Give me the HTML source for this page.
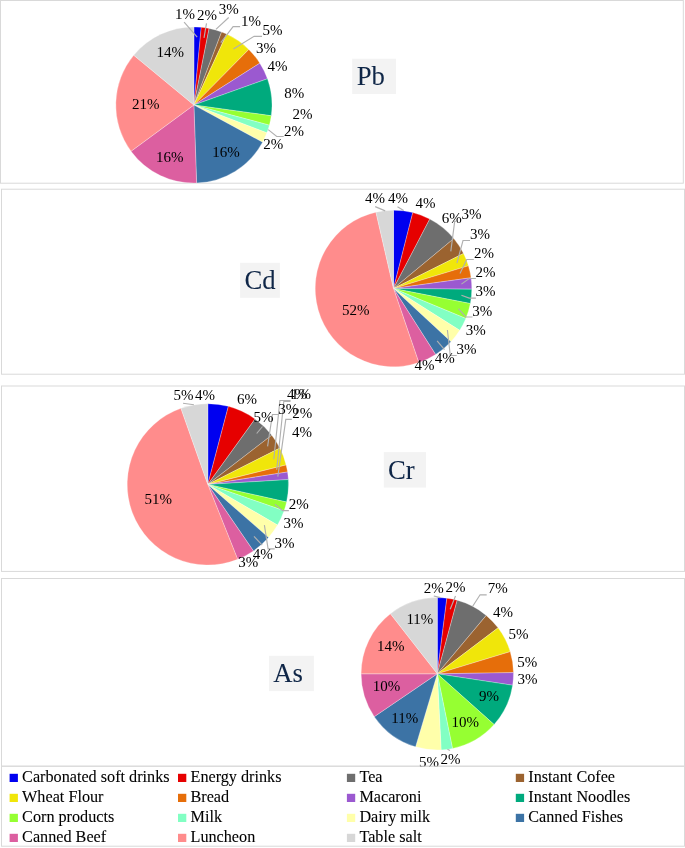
<!DOCTYPE html>
<html><head><meta charset="utf-8"><title>Heavy metals pie charts</title>
<style>
html,body{margin:0;padding:0;background:#fff;}
body{width:685px;height:848px;overflow:hidden;}
svg{display:block;}
text{font-family:"Liberation Serif","Times New Roman",serif;}
.lb{font-size:15px;fill:#000;}
.lg{font-size:16.2px;fill:#000;stroke:#000;stroke-width:0.08;}
.tt{font-size:26.7px;fill:#0f2647;stroke:#0f2647;stroke-width:0.06;}
.ld{fill:none;stroke:#b0b0b0;stroke-width:1.15;}
.bx{fill:#fff;stroke:#d9d9d9;stroke-width:1;}
</style></head><body>
<svg width="685" height="848" viewBox="0 0 685 848">
<rect x="0" y="0" width="685" height="848" fill="#fff"/>
<rect class="bx" x="0.5" y="0.5" width="682.8" height="182.7"/>
<rect class="bx" x="1.5" y="189.2" width="683.0" height="185.0"/>
<rect class="bx" x="1.5" y="386.0" width="683.0" height="185.4"/>
<rect class="bx" x="1.5" y="578.5" width="683.0" height="187.7"/>
<g stroke="#fff" stroke-opacity="0.55" stroke-width="0.5" stroke-linejoin="round">
<path d="M193.90 105.00L193.90 26.90A78.1 78.1 0 0 1 201.25 27.25Z" fill="#0000f0"/>
<path d="M193.90 105.00L201.25 27.25A78.1 78.1 0 0 1 209.11 28.40Z" fill="#e60000"/>
<path d="M193.90 105.00L209.11 28.40A78.1 78.1 0 0 1 221.60 31.98Z" fill="#6e6e6e"/>
<path d="M193.90 105.00L221.60 31.98A78.1 78.1 0 0 1 226.66 34.10Z" fill="#9b6330"/>
<path d="M193.90 105.00L226.66 34.10A78.1 78.1 0 0 1 248.78 49.43Z" fill="#f0e60a"/>
<path d="M193.90 105.00L248.78 49.43A78.1 78.1 0 0 1 259.84 63.15Z" fill="#e66e0a"/>
<path d="M193.90 105.00L259.84 63.15A78.1 78.1 0 0 1 267.47 78.78Z" fill="#9b59d0"/>
<path d="M193.90 105.00L267.47 78.78A78.1 78.1 0 0 1 271.26 115.76Z" fill="#00aa7d"/>
<path d="M193.90 105.00L271.26 115.76A78.1 78.1 0 0 1 269.36 125.13Z" fill="#96ff32"/>
<path d="M193.90 105.00L269.36 125.13A78.1 78.1 0 0 1 266.87 132.84Z" fill="#82ffc3"/>
<path d="M193.90 105.00L266.87 132.84A78.1 78.1 0 0 1 262.57 142.19Z" fill="#ffffaa"/>
<path d="M193.90 105.00L262.57 142.19A78.1 78.1 0 0 1 196.60 183.05Z" fill="#3c73a5"/>
<path d="M193.90 105.00L196.60 183.05A78.1 78.1 0 0 1 131.01 151.30Z" fill="#dc5fa0"/>
<path d="M193.90 105.00L131.01 151.30A78.1 78.1 0 0 1 133.72 55.22Z" fill="#ff8c8c"/>
<path d="M193.90 105.00L133.72 55.22A78.1 78.1 0 0 1 193.90 26.90Z" fill="#d7d7d7"/>
</g>
<polyline class="ld" points="184.1,22.2 197.2,37.1"/>
<polyline class="ld" points="206.5,23.4 204.0,37.8"/>
<polyline class="ld" points="228.7,17.5 215.9,29.4"/>
<polyline class="ld" points="240.1,26.6 233.1,26.6 220.8,42.6"/>
<polyline class="ld" points="262,36.3 254.1,36.3 233.4,49.1"/>
<polyline class="ld" points="283.7,136.5 276.7,136.5 268.2,129.6"/>
<text class="lb" x="175.0" y="19.2">1%</text>
<text class="lb" x="196.9" y="19.6">2%</text>
<text class="lb" x="218.7" y="14.0">3%</text>
<text class="lb" x="241.0" y="26.1">1%</text>
<text class="lb" x="262.6" y="35.0">5%</text>
<text class="lb" x="255.9" y="52.9">3%</text>
<text class="lb" x="267.5" y="70.5">4%</text>
<text class="lb" x="284.2" y="98.1">8%</text>
<text class="lb" x="292.5" y="118.5">2%</text>
<text class="lb" x="284.0" y="135.8">2%</text>
<text class="lb" x="263.3" y="149.2">2%</text>
<text class="lb" x="212.2" y="157.0">16%</text>
<text class="lb" x="156.0" y="161.5">16%</text>
<text class="lb" x="132.0" y="109.0">21%</text>
<text class="lb" x="156.4" y="56.9">14%</text>
<g stroke="#fff" stroke-opacity="0.55" stroke-width="0.5" stroke-linejoin="round">
<path d="M393.50 288.50L393.50 210.20A78.3 78.3 0 0 1 412.78 212.61Z" fill="#0000f0"/>
<path d="M393.50 288.50L412.78 212.61A78.3 78.3 0 0 1 429.75 219.10Z" fill="#e60000"/>
<path d="M393.50 288.50L429.75 219.10A78.3 78.3 0 0 1 453.83 238.59Z" fill="#6e6e6e"/>
<path d="M393.50 288.50L453.83 238.59A78.3 78.3 0 0 1 463.51 253.44Z" fill="#9b6330"/>
<path d="M393.50 288.50L463.51 253.44A78.3 78.3 0 0 1 468.44 265.81Z" fill="#f0e60a"/>
<path d="M393.50 288.50L468.44 265.81A78.3 78.3 0 0 1 471.06 277.76Z" fill="#e66e0a"/>
<path d="M393.50 288.50L471.06 277.76A78.3 78.3 0 0 1 471.80 289.14Z" fill="#9b59d0"/>
<path d="M393.50 288.50L471.80 289.14A78.3 78.3 0 0 1 470.34 303.56Z" fill="#00aa7d"/>
<path d="M393.50 288.50L470.34 303.56A78.3 78.3 0 0 1 465.84 318.46Z" fill="#96ff32"/>
<path d="M393.50 288.50L465.84 318.46A78.3 78.3 0 0 1 459.69 330.33Z" fill="#82ffc3"/>
<path d="M393.50 288.50L459.69 330.33A78.3 78.3 0 0 1 450.98 341.67Z" fill="#ffffaa"/>
<path d="M393.50 288.50L450.98 341.67A78.3 78.3 0 0 1 435.62 354.51Z" fill="#3c73a5"/>
<path d="M393.50 288.50L435.62 354.51A78.3 78.3 0 0 1 418.82 362.59Z" fill="#dc5fa0"/>
<path d="M393.50 288.50L418.82 362.59A78.3 78.3 0 1 1 375.94 212.19Z" fill="#ff8c8c"/>
<path d="M393.50 288.50L375.94 212.19A78.3 78.3 0 0 1 393.50 210.20Z" fill="#d7d7d7"/>
</g>
<polyline class="ld" points="375.2,206.6 385.2,210.9"/>
<polyline class="ld" points="397.5,206.8 403.6,210.5"/>
<polyline class="ld" points="456,221.2 454.7,221.2 450.8,251.4"/>
<polyline class="ld" points="470,240.5 463,240.5 456.9,263.2"/>
<polyline class="ld" points="473.8,259.5 466.7,259.5 460,273.6"/>
<polyline class="ld" points="475.9,278.5 469.2,278.5 461.4,284.1"/>
<polyline class="ld" points="475.9,298.1 469.2,298.1 461.4,295.3"/>
<polyline class="ld" points="472.5,317 465.8,317 458.5,308.7"/>
<polyline class="ld" points="456.7,355.5 450.3,355.5 447.4,330"/>
<polyline class="ld" points="444.5,349.7 437.1,340.9"/>
<text class="lb" x="388.0" y="203.0">4%</text>
<text class="lb" x="415.4" y="207.7">4%</text>
<text class="lb" x="441.8" y="222.5">6%</text>
<text class="lb" x="461.4" y="219.3">3%</text>
<text class="lb" x="470.0" y="238.8">3%</text>
<text class="lb" x="474.0" y="258.1">2%</text>
<text class="lb" x="475.6" y="277.4">2%</text>
<text class="lb" x="475.6" y="296.4">3%</text>
<text class="lb" x="472.3" y="315.7">3%</text>
<text class="lb" x="465.8" y="334.8">3%</text>
<text class="lb" x="456.6" y="353.9">3%</text>
<text class="lb" x="434.8" y="363.3">4%</text>
<text class="lb" x="414.4" y="369.7">4%</text>
<text class="lb" x="342.1" y="315.0">52%</text>
<text class="lb" x="364.9" y="203.0">4%</text>
<g stroke="#fff" stroke-opacity="0.55" stroke-width="0.5" stroke-linejoin="round">
<path d="M207.80 484.40L207.80 403.70A80.7 80.7 0 0 1 228.36 406.36Z" fill="#0000f0"/>
<path d="M207.80 484.40L228.36 406.36A80.7 80.7 0 0 1 255.03 418.96Z" fill="#e60000"/>
<path d="M207.80 484.40L255.03 418.96A80.7 80.7 0 0 1 271.75 435.18Z" fill="#6e6e6e"/>
<path d="M207.80 484.40L271.75 435.18A80.7 80.7 0 0 1 279.86 448.08Z" fill="#9b6330"/>
<path d="M207.80 484.40L279.86 448.08A80.7 80.7 0 0 1 286.11 464.92Z" fill="#f0e60a"/>
<path d="M207.80 484.40L286.11 464.92A80.7 80.7 0 0 1 287.54 471.98Z" fill="#e66e0a"/>
<path d="M207.80 484.40L287.54 471.98A80.7 80.7 0 0 1 288.36 479.59Z" fill="#9b59d0"/>
<path d="M207.80 484.40L288.36 479.59A80.7 80.7 0 0 1 286.56 502.00Z" fill="#00aa7d"/>
<path d="M207.80 484.40L286.56 502.00A80.7 80.7 0 0 1 284.08 510.73Z" fill="#96ff32"/>
<path d="M207.80 484.40L284.08 510.73A80.7 80.7 0 0 1 277.49 525.09Z" fill="#82ffc3"/>
<path d="M207.80 484.40L277.49 525.09A80.7 80.7 0 0 1 268.53 537.54Z" fill="#ffffaa"/>
<path d="M207.80 484.40L268.53 537.54A80.7 80.7 0 0 1 253.45 550.95Z" fill="#3c73a5"/>
<path d="M207.80 484.40L253.45 550.95A80.7 80.7 0 0 1 237.70 559.36Z" fill="#dc5fa0"/>
<path d="M207.80 484.40L237.70 559.36A80.7 80.7 0 1 1 180.94 408.30Z" fill="#ff8c8c"/>
<path d="M207.80 484.40L180.94 408.30A80.7 80.7 0 0 1 207.80 403.70Z" fill="#d7d7d7"/>
</g>
<polyline class="ld" points="183,403.2 193.9,404.7"/>
<polyline class="ld" points="262.5,426.5 256.7,433.5"/>
<polyline class="ld" points="279.0,414.5 272.4,414.5 267.6,446.4"/>
<polyline class="ld" points="290.5,400.5 279.9,400.5 273.8,459.2"/>
<polyline class="ld" points="290.5,401.3 283.8,401.3 276.7,469.8"/>
<polyline class="ld" points="291.8,419.4 285.8,419.4 277.8,476.6"/>
<polyline class="ld" points="288.9,510.6 282.6,510.6 274.9,504.2"/>
<polyline class="ld" points="274.7,548.9 268.1,548.9 264.4,525.2"/>
<polyline class="ld" points="262.2,545.2 254,536.4"/>
<text class="lb" x="194.9" y="400.0">4%</text>
<text class="lb" x="237.1" y="404.0">6%</text>
<text class="lb" x="253.5" y="421.7">5%</text>
<text class="lb" x="278.3" y="414.0">3%</text>
<text class="lb" x="287.0" y="399.3">4%</text>
<text class="lb" x="290.9" y="399.3">1%</text>
<text class="lb" x="292.3" y="418.3">2%</text>
<text class="lb" x="292.0" y="437.0">4%</text>
<text class="lb" x="288.8" y="508.7">2%</text>
<text class="lb" x="283.6" y="528.4">3%</text>
<text class="lb" x="274.6" y="547.5">3%</text>
<text class="lb" x="252.7" y="558.9">4%</text>
<text class="lb" x="238.2" y="566.5">3%</text>
<text class="lb" x="144.6" y="503.8">51%</text>
<text class="lb" x="173.5" y="400.0">5%</text>
<g stroke="#fff" stroke-opacity="0.55" stroke-width="0.5" stroke-linejoin="round">
<path d="M437.30 673.80L437.30 597.60A76.2 76.2 0 0 1 446.85 598.20Z" fill="#0000f0"/>
<path d="M437.30 673.80L446.85 598.20A76.2 76.2 0 0 1 457.18 600.24Z" fill="#e60000"/>
<path d="M437.30 673.80L457.18 600.24A76.2 76.2 0 0 1 486.24 615.39Z" fill="#6e6e6e"/>
<path d="M437.30 673.80L486.24 615.39A76.2 76.2 0 0 1 498.09 627.86Z" fill="#9b6330"/>
<path d="M437.30 673.80L498.09 627.86A76.2 76.2 0 0 1 510.20 651.62Z" fill="#f0e60a"/>
<path d="M437.30 673.80L510.20 651.62A76.2 76.2 0 0 1 513.49 672.60Z" fill="#e66e0a"/>
<path d="M437.30 673.80L513.49 672.60A76.2 76.2 0 0 1 512.64 685.25Z" fill="#9b59d0"/>
<path d="M437.30 673.80L512.64 685.25A76.2 76.2 0 0 1 494.14 724.55Z" fill="#00aa7d"/>
<path d="M437.30 673.80L494.14 724.55A76.2 76.2 0 0 1 452.52 748.46Z" fill="#96ff32"/>
<path d="M437.30 673.80L452.52 748.46A76.2 76.2 0 0 1 441.13 749.90Z" fill="#82ffc3"/>
<path d="M437.30 673.80L441.13 749.90A76.2 76.2 0 0 1 415.58 746.84Z" fill="#ffffaa"/>
<path d="M437.30 673.80L415.58 746.84A76.2 76.2 0 0 1 374.28 716.63Z" fill="#3c73a5"/>
<path d="M437.30 673.80L374.28 716.63A76.2 76.2 0 0 1 361.10 673.80Z" fill="#dc5fa0"/>
<path d="M437.30 673.80L361.10 673.80A76.2 76.2 0 0 1 390.41 613.74Z" fill="#ff8c8c"/>
<path d="M437.30 673.80L390.41 613.74A76.2 76.2 0 0 1 437.30 597.60Z" fill="#d7d7d7"/>
</g>
<polyline class="ld" points="433.8,596 440.4,597.6"/>
<polyline class="ld" points="455.5,596 450.2,609.2"/>
<polyline class="ld" points="486.7,594.8 480.1,594.8 472.7,606.2"/>
<polyline class="ld" points="447.4,749.3 450,750.5"/>
<text class="lb" x="423.7" y="592.5">2%</text>
<text class="lb" x="445.4" y="592.3">2%</text>
<text class="lb" x="487.7" y="593.3">7%</text>
<text class="lb" x="492.9" y="617.3">4%</text>
<text class="lb" x="508.6" y="638.8">5%</text>
<text class="lb" x="517.3" y="666.8">5%</text>
<text class="lb" x="517.6" y="683.9">3%</text>
<text class="lb" x="479.0" y="701.3">9%</text>
<text class="lb" x="451.6" y="727.0">10%</text>
<text class="lb" x="440.5" y="763.7">2%</text>
<text class="lb" x="419.0" y="767.3">5%</text>
<text class="lb" x="391.2" y="722.8">11%</text>
<text class="lb" x="372.8" y="690.9">10%</text>
<text class="lb" x="376.9" y="650.7">14%</text>
<text class="lb" x="406.4" y="624.1">11%</text>
<rect x="352.2" y="58.7" width="43.8" height="35.3" fill="#f3f3f3"/>
<text class="tt" x="356.7" y="84.5">Pb</text>
<rect x="240.1" y="262.8" width="39.8" height="35.0" fill="#f3f3f3"/>
<text class="tt" x="244.4" y="288.8">Cd</text>
<rect x="383.8" y="452.1" width="42.2" height="35.5" fill="#f3f3f3"/>
<text class="tt" x="387.9" y="478.8">Cr</text>
<rect x="269" y="655.8" width="44.9" height="35.3" fill="#f3f3f3"/>
<text class="tt" x="273.3" y="682.3">As</text>
<rect class="bx" style="fill:none" x="1.5" y="766.2" width="683.0" height="80.0"/>
<rect x="9.6" y="773.8" width="8.3" height="8.2" fill="#0000f0"/>
<text class="lg" x="22.1" y="782.0">Carbonated soft drinks</text>
<rect x="178.0" y="773.8" width="8.3" height="8.2" fill="#e60000"/>
<text class="lg" x="190.5" y="782.0">Energy drinks</text>
<rect x="346.9" y="773.8" width="8.3" height="8.2" fill="#6e6e6e"/>
<text class="lg" x="359.4" y="782.0">Tea</text>
<rect x="515.8" y="773.8" width="8.3" height="8.2" fill="#9b6330"/>
<text class="lg" x="528.3" y="782.0">Instant Cofee</text>
<rect x="9.6" y="793.8" width="8.3" height="8.2" fill="#f0e60a"/>
<text class="lg" x="22.1" y="802.0">Wheat Flour</text>
<rect x="178.0" y="793.8" width="8.3" height="8.2" fill="#e66e0a"/>
<text class="lg" x="190.5" y="802.0">Bread</text>
<rect x="346.9" y="793.8" width="8.3" height="8.2" fill="#9b59d0"/>
<text class="lg" x="359.4" y="802.0">Macaroni</text>
<rect x="515.8" y="793.8" width="8.3" height="8.2" fill="#00aa7d"/>
<text class="lg" x="528.3" y="802.0">Instant Noodles</text>
<rect x="9.6" y="813.8" width="8.3" height="8.2" fill="#96ff32"/>
<text class="lg" x="22.1" y="822.0">Corn products</text>
<rect x="178.0" y="813.8" width="8.3" height="8.2" fill="#82ffc3"/>
<text class="lg" x="190.5" y="822.0">Milk</text>
<rect x="346.9" y="813.8" width="8.3" height="8.2" fill="#ffffaa"/>
<text class="lg" x="359.4" y="822.0">Dairy milk</text>
<rect x="515.8" y="813.8" width="8.3" height="8.2" fill="#3c73a5"/>
<text class="lg" x="528.3" y="822.0">Canned Fishes</text>
<rect x="9.6" y="833.8" width="8.3" height="8.2" fill="#dc5fa0"/>
<text class="lg" x="22.1" y="842.0">Canned Beef</text>
<rect x="178.0" y="833.8" width="8.3" height="8.2" fill="#ff8c8c"/>
<text class="lg" x="190.5" y="842.0">Luncheon</text>
<rect x="346.9" y="833.8" width="8.3" height="8.2" fill="#d7d7d7"/>
<text class="lg" x="359.4" y="842.0">Table salt</text>
</svg>
</body></html>
